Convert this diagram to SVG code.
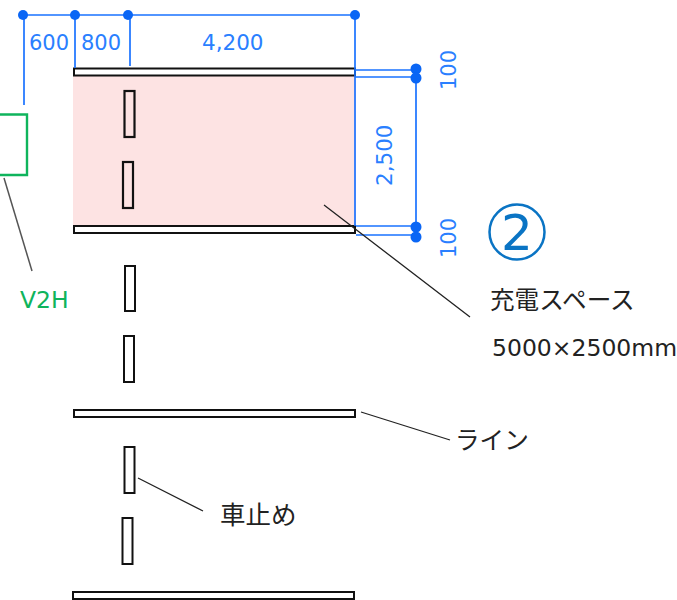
<svg xmlns="http://www.w3.org/2000/svg" width="677" height="600" viewBox="0 0 677 600">
<style>
text{font-family:"DejaVu Sans","Noto Sans CJK JP",sans-serif;font-size:21px}
.d{fill:#2a7fff}
.k{fill:#222}
.j{font-size:24.600px}
.b{fill:#fff;stroke:#111;stroke-width:2}
.s{fill:none;stroke:#111;stroke-width:2.200}
.dim{stroke:#1a73ff;stroke-width:1.700;fill:none}
.dot{fill:#0a66f5}
.lead{stroke:#222;stroke-width:1.300;fill:none}
</style>
<g id="space"><rect x="73" y="76" width="283" height="150" fill="#fde3e3"/></g>
<g id="lines">
<rect id="line1" class="b" x="74" y="68.500" width="281" height="7"/>
<rect id="line2" class="b" x="74" y="226" width="281" height="7"/>
<rect id="line3" class="b" x="74" y="410" width="281" height="7"/>
<rect id="line4" class="b" x="73" y="592" width="281" height="7"/>
</g>
<g id="stops">
<rect class="s" x="124.500" y="91" width="10" height="46"/>
<rect class="s" x="123" y="162" width="10" height="46"/>
<rect class="b" x="125" y="266" width="10" height="45"/>
<rect class="b" x="124" y="336" width="10" height="46"/>
<rect class="b" x="124.500" y="447" width="10" height="46"/>
<rect class="b" x="122.500" y="518" width="10" height="46"/>
</g>
<g id="v2h"><path d="M-2 114.500H27V175H-2" fill="none" stroke="#0fb45c" stroke-width="2.400"/></g>
<g id="connectors">
<path class="dim" d="M23 15H355M24 15V105M75 15V68M130 15V66M355 15V226M355 70H416M355 77H416M416 70V226M356 226H416M356 235H416"/>
<circle class="dot" cx="23" cy="15" r="5"/><circle class="dot" cx="75" cy="15" r="5"/><circle class="dot" cx="128" cy="15" r="5"/><circle class="dot" cx="355" cy="15" r="5"/>
<circle class="dot" cx="416" cy="69" r="5.500"/><circle class="dot" cx="416" cy="78" r="5.500"/><circle class="dot" cx="416" cy="227" r="5.500"/><circle class="dot" cx="416" cy="237" r="5.500"/>
<path class="lead" d="M324 205L470 317M361 412L450 440M138 478L203 511"/>
<path stroke="#555" stroke-width="1.500" fill="none" d="M4 178L32 271"/>
</g>
<g id="labels">
<text class="d" x="29" y="50">600</text>
<text class="d" x="81" y="50">800</text>
<text class="d" x="202" y="50" style="font-size:21.500px">4,200</text>
<text class="d" transform="translate(456 90) rotate(-90)">100</text>
<text class="d" transform="translate(392 186) rotate(-90)" style="font-size:21.500px">2,500</text>
<text class="d" transform="translate(456 258) rotate(-90)">100</text>
<text x="20" y="308" fill="#0fb45c" style="font-size:23.500px">V2H</text>
<text class="k j" x="490" y="309">充電スペース</text>
<text class="k" x="492" y="356" style="font-size:23.500px">5000×2500mm</text>
<text class="k j" x="455" y="449">ライン</text>
<text class="k" x="220" y="524" style="font-size:25.500px">車止め</text>
<circle cx="517" cy="232" r="27.500" fill="none" stroke="#0a74c4" stroke-width="2.500"/>
<text x="517" y="250" text-anchor="middle" style="font-size:50px" fill="#0a74c4">2</text>
</g>
</svg>
